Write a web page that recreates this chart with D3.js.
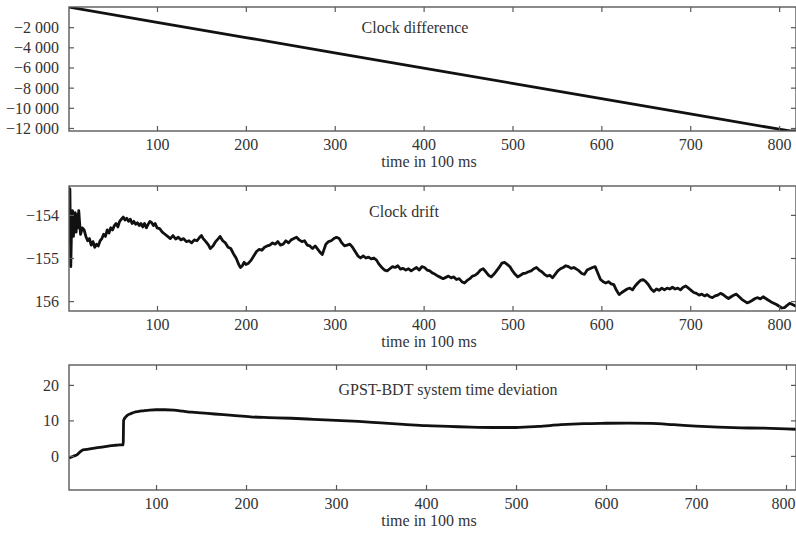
<!DOCTYPE html>
<html><head><meta charset="utf-8">
<script src="https://cdn.jsdelivr.net/npm/d3@7"></script>
<style>html,body{margin:0;padding:0;background:#fff;}</style>
</head><body>
<svg id="chart" width="796" height="535"></svg>
<script>
// ---- DATA ----
const xTicks = [100, 200, 300, 400, 500, 600, 700, 800];
const xLabel = "time in 100 ms";

// Panel 1: clock difference
const diffTitle = "Clock difference";
const diffT = [0, 100, 200, 300, 400, 500, 600, 700, 800, 812, 819];
const diffV = [0, -1515, -3030, -4545, -6060, -7575, -9090, -10605, -12120, -12300, -12300];
const diffTicks = [-2000, -4000, -6000, -8000, -10000, -12000];
const diffTickLabels = ["\u22122 000", "\u22124 000", "\u22126 000", "\u22128 000", "\u221210 000", "\u221212 000"];

// Panel 2: clock drift
const driftTitle = "Clock drift";
const driftT = [0,1,2,3,4,5,6,7,8,9,10,11,12,13,14,16,18,20,22,24,26,28,30,32,34,36,38,40,42,44,46,48,50,52,54,56,58,60,62,64,66,68,70,72,74,76,78,80,82,84,86,88,90,92,94,96,98,100,
103,106,109,112,115,118,121,124,127,130,133,136,139,142,145,148,150,152,155,158,160,163,166,169,171,174,177,180,183,186,189,192,194,196,198,200,203,206,209,212,215,218,221,224,227,230,233,236,239,242,245,248,251,254,257,260,263,266,269,272,275,278,281,284,286,288,290,293,296,299,302,305,308,311,314,317,320,323,326,329,332,335,338,341,344,347,350,353,356,359,362,365,368,371,374,377,380,383,386,389,392,395,398,401,404,407,410,413,416,419,422,425,428,431,434,437,440,443,446,449,452,455,458,461,464,467,470,473,476,479,482,485,488,491,494,497,500,503,506,509,512,515,518,521,524,527,530,533,536,539,542,545,548,551,554,557,560,563,566,569,572,575,578,581,584,587,590,593,596,599,602,605,608,611,614,617,620,623,626,629,632,635,638,641,644,647,650,653,656,659,662,665,668,671,674,677,680,683,686,689,692,695,698,701,704,707,710,713,716,719,722,725,728,731,734,737,740,743,746,749,752,755,758,761,764,767,770,773,776,779,782,785,788,791,794,797,800,803,806,809,812,815,819];
const driftV = [-153.2,-154.6,-153.4,-155.2,-154.2,-153.9,-154.5,-154.1,-153.95,-154.4,-154.0,-154.3,-153.9,-154.2,-154.45,-154.3,-154.35,-154.5,-154.6,-154.55,-154.7,-154.62,-154.75,-154.68,-154.72,-154.6,-154.55,-154.45,-154.5,-154.35,-154.42,-154.3,-154.35,-154.25,-154.2,-154.28,-154.15,-154.1,-154.05,-154.12,-154.08,-154.15,-154.1,-154.2,-154.15,-154.22,-154.18,-154.25,-154.2,-154.28,-154.2,-154.3,-154.22,-154.15,-154.18,-154.25,-154.2,-154.3,
-154.32,-154.4,-154.45,-154.5,-154.55,-154.48,-154.56,-154.52,-154.58,-154.55,-154.62,-154.6,-154.65,-154.58,-154.6,-154.52,-154.48,-154.55,-154.62,-154.7,-154.78,-154.72,-154.62,-154.55,-154.5,-154.6,-154.65,-154.75,-154.78,-154.9,-155.0,-155.15,-155.22,-155.18,-155.1,-155.15,-155.12,-155.05,-154.95,-154.85,-154.8,-154.82,-154.75,-154.72,-154.7,-154.65,-154.68,-154.62,-154.7,-154.68,-154.6,-154.65,-154.58,-154.55,-154.52,-154.58,-154.62,-154.6,-154.7,-154.72,-154.78,-154.72,-154.8,-154.88,-154.92,-154.8,-154.68,-154.62,-154.6,-154.55,-154.52,-154.55,-154.65,-154.72,-154.7,-154.68,-154.75,-154.85,-154.95,-155.0,-154.95,-155.0,-154.98,-155.02,-155.0,-155.05,-155.15,-155.22,-155.28,-155.3,-155.25,-155.2,-155.22,-155.18,-155.26,-155.24,-155.28,-155.25,-155.3,-155.26,-155.22,-155.28,-155.2,-155.22,-155.28,-155.3,-155.35,-155.38,-155.42,-155.45,-155.48,-155.45,-155.42,-155.46,-155.44,-155.5,-155.48,-155.55,-155.58,-155.52,-155.48,-155.42,-155.4,-155.35,-155.28,-155.25,-155.32,-155.4,-155.44,-155.38,-155.3,-155.22,-155.12,-155.1,-155.15,-155.2,-155.3,-155.38,-155.44,-155.4,-155.36,-155.35,-155.32,-155.3,-155.25,-155.22,-155.28,-155.32,-155.38,-155.42,-155.4,-155.46,-155.38,-155.3,-155.25,-155.22,-155.18,-155.2,-155.24,-155.22,-155.26,-155.3,-155.36,-155.38,-155.28,-155.25,-155.22,-155.2,-155.35,-155.5,-155.55,-155.58,-155.55,-155.6,-155.62,-155.75,-155.85,-155.8,-155.76,-155.72,-155.7,-155.74,-155.65,-155.58,-155.52,-155.5,-155.55,-155.62,-155.72,-155.78,-155.72,-155.75,-155.7,-155.74,-155.7,-155.72,-155.68,-155.72,-155.7,-155.74,-155.68,-155.65,-155.7,-155.75,-155.8,-155.82,-155.86,-155.84,-155.88,-155.85,-155.9,-155.92,-155.88,-155.86,-155.82,-155.85,-155.9,-155.94,-155.9,-155.86,-155.84,-155.9,-155.96,-156.0,-156.04,-156.02,-155.98,-155.94,-155.92,-155.95,-155.9,-155.94,-155.98,-156.02,-156.05,-156.08,-156.12,-156.16,-156.15,-156.1,-156.05,-156.08,-156.12];
const driftTicks = [-154, -155, -156];
const driftTickLabels = ["\u2212154", "\u2212155", "156"];

// Panel 3: GPST-BDT system time deviation
const devTitle = "GPST-BDT system time deviation";
const devT = [3.3,6,9,12,15,18,21,25,30,35,40,45,50,55,60,63.5,64,66,68,72,76,80,86,93,100,110,120,130,140,150,165,185,205,225,250,275,300,325,350,375,400,425,450,475,500,525,550,575,600,625,650,675,700,725,750,775,800,811];
const devV = [-0.6,-0.3,0.0,0.3,1.0,1.6,1.8,1.9,2.1,2.3,2.5,2.7,2.9,3.0,3.1,3.1,10.0,10.9,11.4,11.9,12.3,12.5,12.7,12.9,13.0,13.0,12.9,12.6,12.3,12.1,11.8,11.4,11.0,10.8,10.6,10.3,10.0,9.7,9.3,8.9,8.5,8.3,8.1,8.0,8.0,8.3,8.8,9.1,9.2,9.25,9.15,8.8,8.4,8.1,7.9,7.8,7.6,7.5];
const devTicks = [20, 10, 0];
const devTickLabels = ["20", "10", "0"];

// ---- DRAW ----
const svg = d3.select("#chart");
const FONT = "'Liberation Serif', 'Times New Roman', serif";
const TEXT = "#333";
const FRAME = "#5a5a5a";

const panels = [
  {title: diffTitle, t: diffT, v: diffV, yt: diffTicks, yl: diffTickLabels, curve: d3.curveLinear,
   xd: [1, 819], yd: [-12300, 0], top: 7, bottom: 131, titleX: 415, titleDy: 26},
  {title: driftTitle, t: driftT, v: driftV, yt: driftTicks, yl: driftTickLabels, curve: d3.curveLinear,
   xd: [1, 819], yd: [-156.23, -153.33], top: 186, bottom: 311, titleX: 404, titleDy: 31},
  {title: devTitle, t: devT, v: devV, yt: devTicks, yl: devTickLabels, curve: d3.curveMonotoneX,
   xd: [3.3, 811.1], yd: [-9.6, 25.6], top: 365, bottom: 490, titleX: 448, titleDy: 30}
];
const L = 69, R = 796;

panels.forEach((p, i) => {
  const x = d3.scaleLinear().domain(p.xd).range([L, R]);
  const y = d3.scaleLinear().domain(p.yd).range([p.bottom, p.top]);
  const g = svg.append("g");

  const clipId = "clip" + i;
  svg.append("clipPath").attr("id", clipId).append("rect")
    .attr("x", L).attr("y", p.top).attr("width", R - L).attr("height", p.bottom - p.top);

  // data line
  const data = p.t.map((t, k) => [t, p.v[k]]);
  g.append("path").datum(data)
    .attr("clip-path", `url(#${clipId})`)
    .attr("fill", "none").attr("stroke", "#111").attr("stroke-width", 2.8)
    .attr("stroke-linejoin", "round")
    .attr("d", d3.line().curve(p.curve).x(d => x(d[0])).y(d => y(d[1])));

  // frame
  g.append("rect").attr("x", L).attr("y", p.top).attr("width", R - L).attr("height", p.bottom - p.top)
    .attr("fill", "none").attr("stroke", FRAME).attr("stroke-width", 1.4);

  // axes: inward ticks
  const tl = 5;
  const bottomAx = d3.axisBottom(x).tickValues(xTicks).tickSize(-tl).tickFormat(d3.format("d")).tickPadding(tl + 8);
  const ba = g.append("g").attr("transform", `translate(0,${p.bottom})`).call(bottomAx);
  const topAx = d3.axisTop(x).tickValues(xTicks).tickSize(-tl).tickFormat("");
  const ta = g.append("g").attr("transform", `translate(0,${p.top})`).call(topAx);
  const leftAx = d3.axisLeft(y).tickValues(p.yt).tickSize(-tl).tickFormat((d, k) => p.yl[k]).tickPadding(tl + 5);
  const la = g.append("g").attr("transform", `translate(${L},0)`).call(leftAx);
  const rightAx = d3.axisRight(y).tickValues(p.yt).tickSize(-tl).tickFormat("");
  const ra = g.append("g").attr("transform", `translate(${R},0)`).call(rightAx);
  [ba, ta, la, ra].forEach(a => {
    a.attr("font-family", FONT);
    a.select(".domain").remove();
    a.selectAll(".tick line").attr("stroke", FRAME).attr("stroke-width", 1.2);
    a.selectAll("text").attr("font-family", FONT).attr("font-size", 16).attr("fill", TEXT);
  });
  ba.selectAll("text").attr("dy", null).attr("y", 19).attr("dominant-baseline", "auto")
    .attr("x", function(d) { const w = this.getComputedTextLength(); const cx = x(d); return Math.min(0, R - 1 - (cx + w / 2)); });
  la.selectAll("text").attr("dy", "0.34em");

  // title
  g.append("text").attr("x", p.titleX).attr("y", p.top + p.titleDy)
    .attr("text-anchor", "middle").attr("font-family", FONT).attr("font-size", 16).attr("fill", TEXT)
    .text(p.title);
  // x label
  g.append("text").attr("x", 429).attr("y", p.bottom + 36)
    .attr("text-anchor", "middle").attr("font-family", FONT).attr("font-size", 16).attr("fill", TEXT)
    .text(xLabel);
});
</script>
</body></html>
